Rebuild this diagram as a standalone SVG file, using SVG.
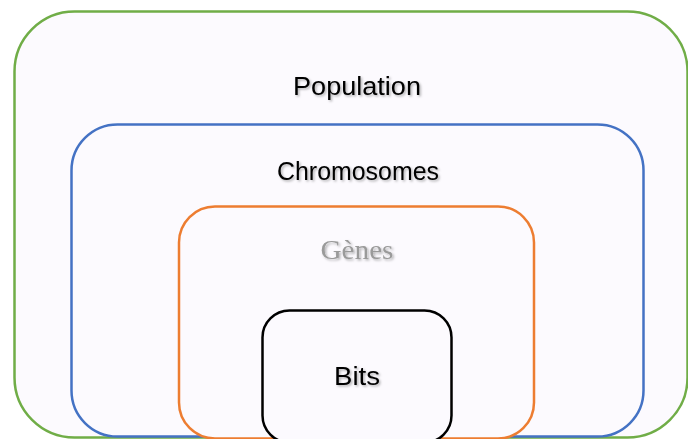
<svg xmlns="http://www.w3.org/2000/svg" width="688" height="439" viewBox="0 0 688 439">
  <defs>
    <filter id="sh" x="-10%" y="-30%" width="130%" height="160%">
      <feDropShadow dx="1.5" dy="1.5" stdDeviation="0.8" flood-color="#000" flood-opacity="0.3"/>
    </filter>
  </defs>
  <style>
    .box { fill: #FCFAFE; stroke-width: 2.5; }
    .lbl { font-family: "Liberation Sans", Arial, sans-serif; font-size: 25px; fill: #000; text-anchor: middle; filter: url(#sh); }
    .ser { font-family: "Liberation Serif", "Times New Roman", serif; font-size: 28px; fill: #9A9A9A; text-anchor: middle; filter: url(#sh); }
  </style>
  <rect width="688" height="439" fill="#FFFFFF"/>
  <g id="population">
    <rect class="box" x="14.5" y="11.5" width="673" height="426" rx="60" ry="60" stroke="#70AD47"/>
    <text class="lbl" x="357" y="95" textLength="128" lengthAdjust="spacingAndGlyphs">Population</text>
  </g>
  <g id="chromosomes">
    <rect class="box" x="71.5" y="124.5" width="572" height="312" rx="46" ry="46" stroke="#4472C4"/>
    <text class="lbl" x="358" y="180" textLength="162" lengthAdjust="spacingAndGlyphs">Chromosomes</text>
  </g>
  <g id="genes">
    <rect class="box" x="179" y="206.5" width="355" height="232" rx="36" ry="36" stroke="#ED7D31"/>
    <text class="ser" x="357" y="259" textLength="73" lengthAdjust="spacingAndGlyphs">Gènes</text>
  </g>
  <g id="bits">
    <rect class="box" x="262.5" y="310.5" width="189" height="132" rx="27" ry="27" stroke="#000000"/>
    <text class="lbl" x="357" y="385" textLength="46" lengthAdjust="spacingAndGlyphs">Bits</text>
  </g>
  <g id="connectors"/>
</svg>
